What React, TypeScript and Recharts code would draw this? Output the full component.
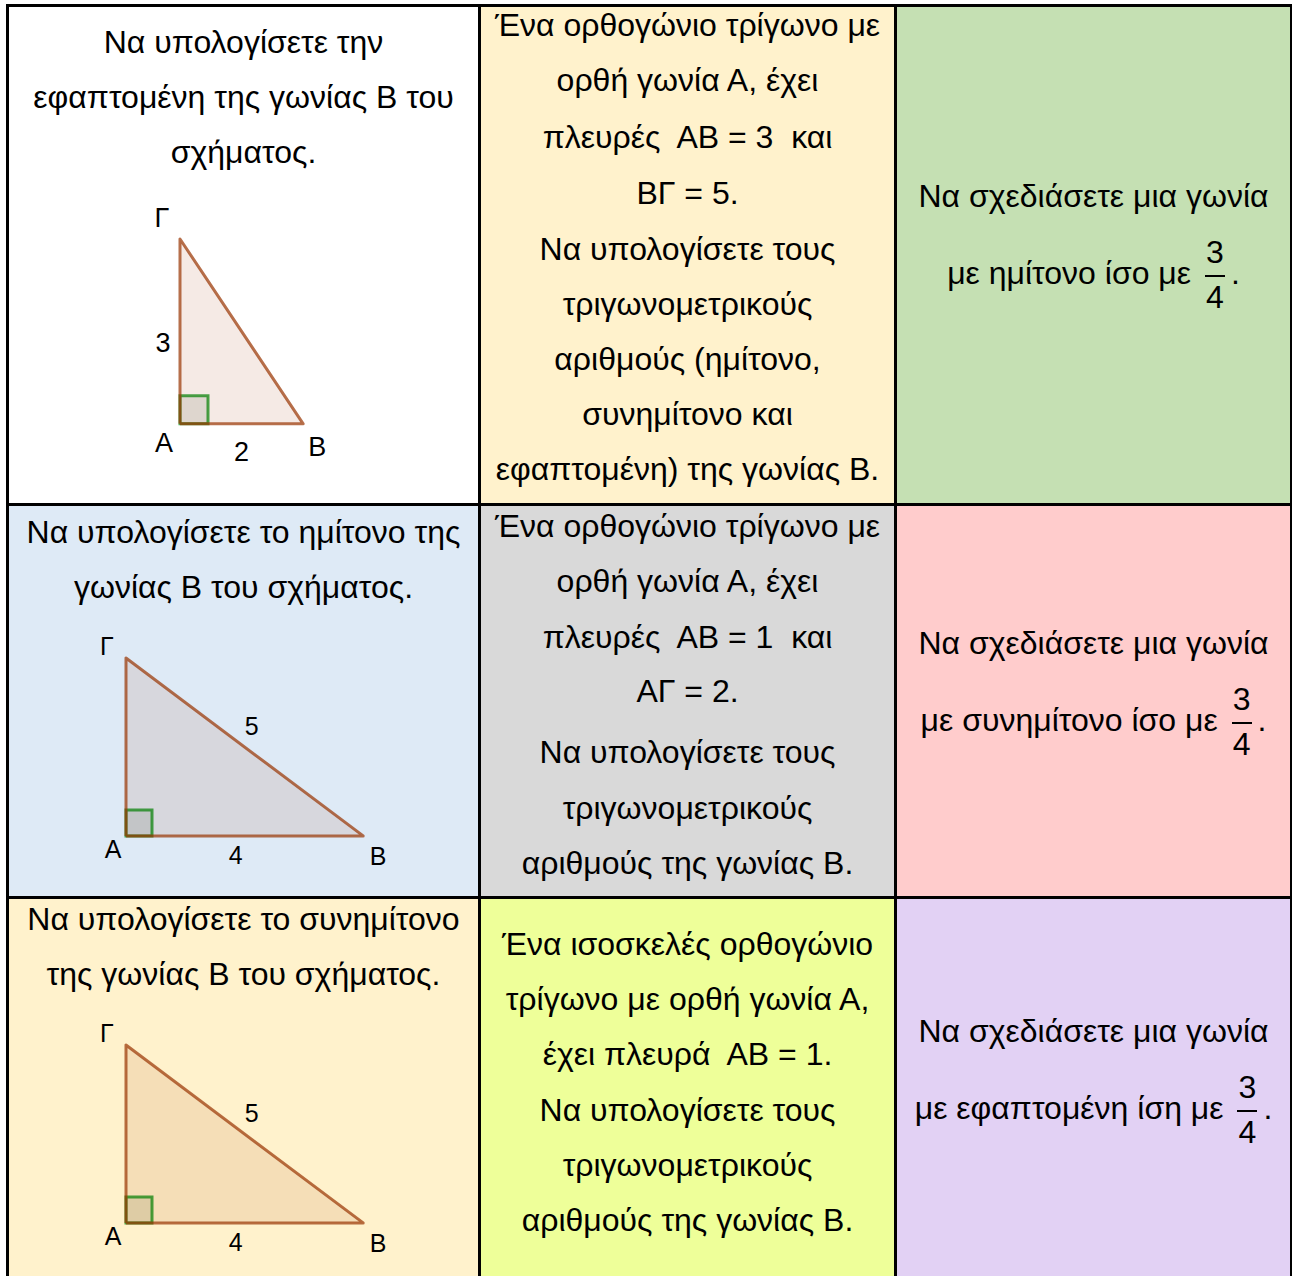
import React from "react";
import {
  ComposedChart,
  XAxis,
  YAxis,
  Area,
  Line,
  Scatter,
  ReferenceArea,
} from "recharts";

// legs of each triangle: [AB, AΓ]
const tri1Legs = [2, 3];
const tri2Legs = [4, 3];
const tri3Legs = [4, 3];

const vertexNames = ["Α", "Β", "Γ"];

// side labels: which side, printed value
const tri1Sides = [
  { side: "ΑΒ", text: "2" },
  { side: "ΑΓ", text: "3" },
];
const tri2Sides = [
  { side: "ΒΓ", text: "5" },
  { side: "ΑΒ", text: "4" },
];
const tri3Sides = [
  { side: "ΒΓ", text: "5" },
  { side: "ΑΒ", text: "4" },
];

const FONT = '"Liberation Sans", Arial, Helvetica, sans-serif';
const BROWN = "#993300";

const COLS = [
  { x: 9, w: 469 },
  { x: 481, w: 413 },
  { x: 897, w: 393 },
];
const ROWS = [
  { y: 7, h: 496 },
  { y: 506, h: 390 },
  { y: 899, h: 380 },
];
const BG = [
  ["#ffffff", "#fff2cc", "#c5e0b3"],
  ["#deeaf6", "#d9d9d9", "#ffcccc"],
  ["#fff2cc", "#eeff99", "#e2d1f4"],
];

type TextLine = { t: string; y: number; frac?: boolean };

const cellText: TextLine[][][] = [
  [
    [
      { t: "Να υπολογίσετε την", y: 42 },
      { t: "εφαπτομένη της γωνίας Β του", y: 97 },
      { t: "σχήματος.", y: 152 },
    ],
    [
      { t: "Ένα ορθογώνιο τρίγωνο με", y: 25 },
      { t: "ορθή γωνία Α, έχει", y: 80 },
      { t: "πλευρές  ΑΒ = 3  και", y: 137 },
      { t: "ΒΓ = 5.", y: 193 },
      { t: "Να υπολογίσετε τους", y: 249 },
      { t: "τριγωνομετρικούς", y: 304 },
      { t: "αριθμούς (ημίτονο,", y: 359 },
      { t: "συνημίτονο και", y: 414 },
      { t: "εφαπτομένη) της γωνίας Β.", y: 469 },
    ],
    [
      { t: "Να σχεδιάσετε μια γωνία", y: 196 },
      { t: "με ημίτονο ίσο με", y: 273, frac: true },
    ],
  ],
  [
    [
      { t: "Να υπολογίσετε το ημίτονο της", y: 532 },
      { t: "γωνίας Β του σχήματος.", y: 587 },
    ],
    [
      { t: "Ένα ορθογώνιο τρίγωνο με", y: 526 },
      { t: "ορθή γωνία Α, έχει", y: 581 },
      { t: "πλευρές  ΑΒ = 1  και", y: 637 },
      { t: "ΑΓ = 2.", y: 691 },
      { t: "Να υπολογίσετε τους", y: 752 },
      { t: "τριγωνομετρικούς", y: 808 },
      { t: "αριθμούς της γωνίας Β.", y: 863 },
    ],
    [
      { t: "Να σχεδιάσετε μια γωνία", y: 643 },
      { t: "με συνημίτονο ίσο με", y: 720, frac: true },
    ],
  ],
  [
    [
      { t: "Να υπολογίσετε το συνημίτονο", y: 919 },
      { t: "της γωνίας Β του σχήματος.", y: 974 },
    ],
    [
      { t: "Ένα ισοσκελές ορθογώνιο", y: 944 },
      { t: "τρίγωνο με ορθή γωνία Α,", y: 999 },
      { t: "έχει πλευρά  ΑΒ = 1.", y: 1054 },
      { t: "Να υπολογίσετε τους", y: 1110 },
      { t: "τριγωνομετρικούς", y: 1165 },
      { t: "αριθμούς της γωνίας Β.", y: 1220 },
    ],
    [
      { t: "Να σχεδιάσετε μια γωνία", y: 1031 },
      { t: "με εφαπτομένη ίση με", y: 1108, frac: true },
    ],
  ],
];

const LH = 55;

function Frac() {
  return (
    <span
      style={{
        display: "inline-block",
        position: "relative",
        width: 26,
        height: LH,
        verticalAlign: "top",
        marginLeft: 2,
        marginRight: 3,
      }}
    >
      <span style={{ position: "absolute", left: 0, right: 0, top: -21, lineHeight: `${LH}px`, textAlign: "center" }}>3</span>
      <span style={{ position: "absolute", left: 3, right: 3, top: LH / 2 + 2, height: 1.5, background: "#000" }} />
      <span style={{ position: "absolute", left: 0, right: 0, top: 24, lineHeight: `${LH}px`, textAlign: "center" }}>4</span>
    </span>
  );
}

type TriLayout = {
  ax: number; // page x of vertex A
  ay: number; // page y of vertex A
  unit: number;
  square: number;
  fontSize: number;
  vOff: Record<string, [number, number]>;
  sOff: Record<string, [number, number]>;
};

const tri1Layout: TriLayout = {
  ax: 180,
  ay: 424,
  unit: 61.6,
  square: 28,
  fontSize: 27,
  vOff: { Α: [-16, 19], Β: [14, 23], Γ: [-18, -21] },
  sOff: { ΑΒ: [0, 28], ΑΓ: [-17, 12] },
};
const tri2Layout: TriLayout = {
  ax: 126,
  ay: 836,
  unit: 59.3,
  square: 26,
  fontSize: 25,
  vOff: { Α: [-13, 13], Β: [15, 20], Γ: [-19, -12] },
  sOff: { ΒΓ: [7, -21], ΑΒ: [-9, 19] },
};
const tri3Layout: TriLayout = { ...tri2Layout, ay: 1223 };

function Triangle({
  legs,
  sides,
  layout,
}: {
  legs: number[];
  sides: { side: string; text: string }[];
  layout: TriLayout;
}) {
  const [ab, ag] = legs;
  const { unit } = layout;
  const padL = 60;
  const padB = 45;
  const padT = 45;
  const padR = 50;
  const W = ab * unit + padL + padR;
  const H = ag * unit + padT + padB;
  const xDomain = [-padL / unit, (W - padL) / unit];
  const yDomain = [-padB / unit, (H - padB) / unit];

  const pts: Record<string, { x: number; y: number }> = {
    Α: { x: 0, y: 0 },
    Β: { x: ab, y: 0 },
    Γ: { x: 0, y: ag },
  };
  const outline = [pts["Α"], pts["Β"], pts["Γ"], pts["Α"]];
  const hyp = [pts["Γ"], pts["Β"]];
  const vLabels = vertexNames.map((n) => ({ ...pts[n], name: n }));
  const sLabels = sides.map((s) => {
    const p = pts[s.side[0]];
    const q = pts[s.side[1]];
    return { x: (p.x + q.x) / 2, y: (p.y + q.y) / 2, name: s.text, side: s.side };
  });
  const sq = layout.square / unit;

  const renderLabel = (offs: Record<string, [number, number]>, key: "name" | "side") => (p: any) => {
    const o = offs[p.payload[key]] || [0, 0];
    return (
      <text
        x={p.cx + o[0]}
        y={p.cy + o[1]}
        textAnchor="middle"
        dominantBaseline="central"
        fontFamily={FONT}
        fontSize={layout.fontSize}
        fill="#000"
      >
        {p.payload.name}
      </text>
    );
  };

  return (
    <div
      style={{
        position: "absolute",
        left: layout.ax - padL,
        top: layout.ay - ag * unit - padT,
      }}
    >
      <ComposedChart width={W} height={H} margin={{ top: 0, right: 0, bottom: 0, left: 0 }} data={outline}>
        <XAxis type="number" dataKey="x" domain={xDomain} hide allowDataOverflow />
        <YAxis type="number" dataKey="y" domain={yDomain} hide allowDataOverflow />
        <Area
          data={hyp}
          dataKey="y"
          type="linear"
          baseValue={0}
          fill={BROWN}
          fillOpacity={0.1}
          stroke="none"
          isAnimationActive={false}
        />
        <ReferenceArea
          x1={0}
          x2={sq}
          y1={0}
          y2={sq}
          fill="#3a4a2a"
          fillOpacity={0.12}
          stroke="#007f00"
          strokeOpacity={0.7}
          strokeWidth={3}
          ifOverflow="visible"
        />
        <Line
          data={outline}
          dataKey="y"
          type="linear"
          stroke={BROWN}
          strokeOpacity={0.7}
          strokeWidth={3}
          strokeLinejoin="round"
          dot={false}
          activeDot={false}
          isAnimationActive={false}
        />
        <Scatter data={vLabels} shape={renderLabel(layout.vOff, "name")} isAnimationActive={false} />
        <Scatter data={sLabels} shape={renderLabel(layout.sOff, "side")} isAnimationActive={false} />
      </ComposedChart>
    </div>
  );
}

export default function App() {
  return (
    <div
      style={{
        position: "absolute",
        left: 0,
        top: 0,
        width: 1292,
        height: 1276,
        overflow: "hidden",
        fontFamily: FONT,
        fontSize: 32,
        color: "#000",
      }}
    >
      <div style={{ position: "absolute", left: 6, top: 4, width: 1286, height: 1300, background: "#000" }} />
      {ROWS.map((r, ri) =>
        COLS.map((c, ci) => (
          <div
            key={`${ri}-${ci}`}
            style={{ position: "absolute", left: c.x, top: r.y, width: c.w, height: r.h, background: BG[ri][ci] }}
          />
        ))
      )}
      {ROWS.map((r, ri) =>
        COLS.map((c, ci) =>
          cellText[ri][ci].map((ln, li) => (
            <div
              key={`${ri}-${ci}-${li}`}
              style={{
                position: "absolute",
                left: c.x,
                width: c.w,
                top: ln.y - LH / 2,
                height: LH,
                lineHeight: `${LH}px`,
                textAlign: "center",
                whiteSpace: "pre",
              }}
            >
              {ln.t}
              {ln.frac ? (
                <>
                  {" "}
                  <Frac />.
                </>
              ) : null}
            </div>
          ))
        )
      )}
      <Triangle legs={tri1Legs} sides={tri1Sides} layout={tri1Layout} />
      <Triangle legs={tri2Legs} sides={tri2Sides} layout={tri2Layout} />
      <Triangle legs={tri3Legs} sides={tri3Sides} layout={tri3Layout} />
    </div>
  );
}
